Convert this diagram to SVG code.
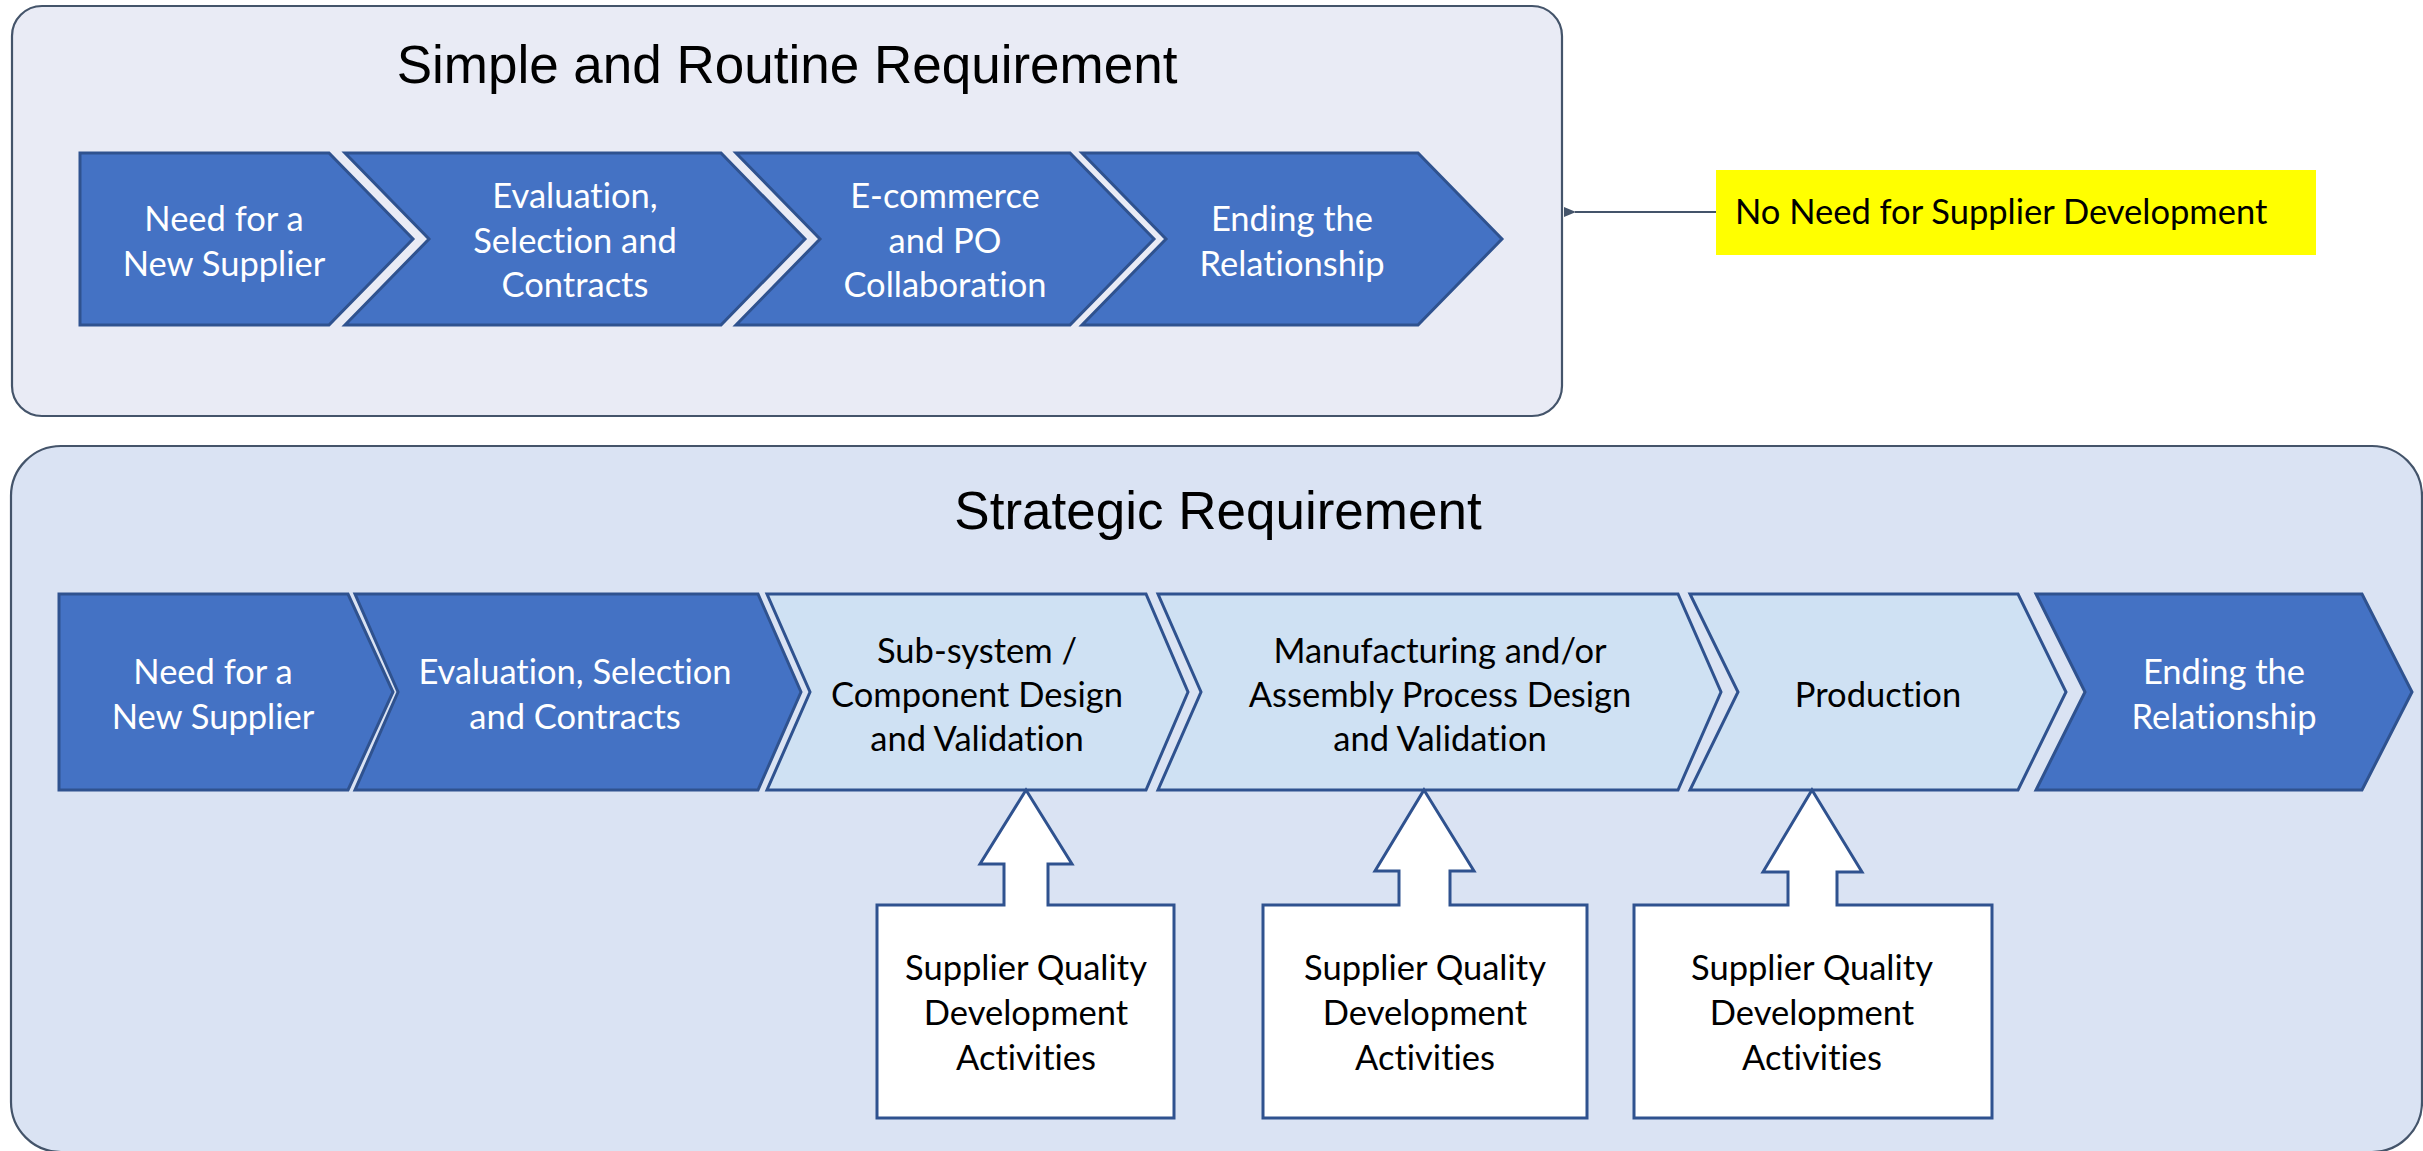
<svg xmlns="http://www.w3.org/2000/svg" width="2423" height="1151" viewBox="0 0 2423 1151">
<defs>
<style>
.frame{stroke:#44546A;stroke-width:2.2}
.dark{fill:#4472C4;stroke:#2F528F;stroke-width:3;stroke-linejoin:miter}
.light{fill:#CFE1F3;stroke:#2F528F;stroke-width:3;stroke-linejoin:miter}
.wbox{fill:#FFFFFF;stroke:#2F528F;stroke-width:3;stroke-linejoin:miter}
.title{font-family:"Liberation Sans",Arial,sans-serif;font-size:53px;fill:#000000;text-anchor:middle}
.lbl{font-family:Lato,"Open Sans",sans-serif;font-size:34.5px;text-anchor:middle;font-variant-ligatures:none}
.w{fill:#FFFFFF}
.b{fill:#000000}
.conn{stroke:#44546A;stroke-width:2.2;fill:none}
</style>
<marker id="ah" markerWidth="12" markerHeight="10" refX="1" refY="5" orient="auto" markerUnits="userSpaceOnUse">
<path d="M12,0 L0,5 L12,10 Z" fill="#44546A"/>
</marker>
</defs>
<rect width="2423" height="1151" fill="#FFFFFF"/>

<g id="simple-routine-group">
<rect class="frame" x="12" y="6" width="1550" height="410" rx="30" ry="30" fill="#E9EBF5"/>
<text class="title" x="787" y="83">Simple and Routine Requirement</text>
</g>

<g id="s1">
<path class="dark" d="M80,153 H329 L413,239 L329,325 H80 Z"/>
<text class="lbl w" x="224" y="231">Need for a</text>
<text class="lbl w" x="224" y="276">New Supplier</text>
</g>
<g id="s2">
<path class="dark" d="M345,153 H721 L805,239 L721,325 H345 L429,239 Z"/>
<text class="lbl w" x="575" y="208">Evaluation,</text>
<text class="lbl w" x="575" y="253">Selection and</text>
<text class="lbl w" x="575" y="297">Contracts</text>
</g>
<g id="s3">
<path class="dark" d="M736,153 H1070 L1154,239 L1070,325 H736 L820,239 Z"/>
<text class="lbl w" x="945" y="208">E-commerce</text>
<text class="lbl w" x="945" y="253">and PO</text>
<text class="lbl w" x="945" y="297">Collaboration</text>
</g>
<g id="s4">
<path class="dark" d="M1082,153 H1418 L1502,239 L1418,325 H1082 L1166,239 Z"/>
<text class="lbl w" x="1292" y="231">Ending the</text>
<text class="lbl w" x="1292" y="276">Relationship</text>
</g>

<g id="no-need">
<rect x="1716" y="170" width="600" height="85" fill="#FFFF00"/>
<text x="1735" y="224" font-family="Lato,'Open Sans',sans-serif" font-size="34.5px" fill="#000000">No Need for Supplier Development</text>
</g>

<g id="strategic-group">
<rect class="frame" x="11" y="446" width="2411" height="706" rx="50" ry="50" fill="#DAE3F3"/>
<text class="title" x="1218" y="529">Strategic Requirement</text>
</g>

<g id="b1">
<path class="dark" d="M59,594 H348 L393,692 L348,790 H59 Z"/>
<text class="lbl w" x="213" y="684">Need for a</text>
<text class="lbl w" x="213" y="729">New Supplier</text>
</g>
<g id="b2">
<path class="dark" d="M355,594 H758 L801,692 L758,790 H355 L398,692 Z"/>
<text class="lbl w" x="575" y="684">Evaluation, Selection</text>
<text class="lbl w" x="575" y="729">and Contracts</text>
</g>
<g id="b3">
<path class="light" d="M767,594 H1146 L1188,692 L1146,790 H767 L810,692 Z"/>
<text class="lbl b" x="977" y="663">Sub-system /</text>
<text class="lbl b" x="977" y="707">Component Design</text>
<text class="lbl b" x="977" y="751">and Validation</text>
</g>
<g id="b4">
<path class="light" d="M1158,594 H1678 L1721,692 L1678,790 H1158 L1201,692 Z"/>
<text class="lbl b" x="1440" y="663">Manufacturing and/or</text>
<text class="lbl b" x="1440" y="707">Assembly Process Design</text>
<text class="lbl b" x="1440" y="751">and Validation</text>
</g>
<g id="b5">
<path class="light" d="M1690,594 H2018 L2066,692 L2018,790 H1690 L1738,692 Z"/>
<text class="lbl b" x="1878" y="707">Production</text>
</g>
<g id="b6">
<path class="dark" d="M2036,594 H2362 L2412,692 L2362,790 H2036 L2085,692 Z"/>
<text class="lbl w" x="2224" y="684">Ending the</text>
<text class="lbl w" x="2224" y="729">Relationship</text>
</g>

<g id="sq1">
<path class="wbox" d="M1026,790 L1072,864 H1048 V905 H1174 V1118 H877 V905 H1004 V864 H980 Z"/>
<text class="lbl b" x="1026" y="980">Supplier Quality</text>
<text class="lbl b" x="1026" y="1025">Development</text>
<text class="lbl b" x="1026" y="1070">Activities</text>
</g>
<g id="sq2">
<path class="wbox" d="M1424,790 L1474,871 H1450 V905 H1587 V1118 H1263 V905 H1399 V871 H1375 Z"/>
<text class="lbl b" x="1425" y="980">Supplier Quality</text>
<text class="lbl b" x="1425" y="1025">Development</text>
<text class="lbl b" x="1425" y="1070">Activities</text>
</g>
<g id="sq3">
<path class="wbox" d="M1812,790 L1862,872 H1837 V905 H1992 V1118 H1634 V905 H1788 V872 H1763 Z"/>
<text class="lbl b" x="1812" y="980">Supplier Quality</text>
<text class="lbl b" x="1812" y="1025">Development</text>
<text class="lbl b" x="1812" y="1070">Activities</text>
</g>

<g id="connectors">
<line class="conn" x1="1716" y1="212" x2="1575" y2="212" marker-end="url(#ah)"/>
</g>
</svg>
